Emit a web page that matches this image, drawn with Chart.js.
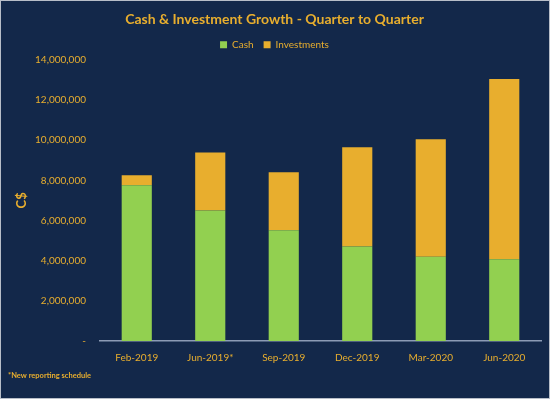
<!DOCTYPE html>
<html>
<head>
<meta charset="utf-8">
<script src="https://cdn.jsdelivr.net/npm/chart.js@4/dist/chart.umd.min.js"></script>
<style>
html,body{margin:0;padding:0;background:#13284a;}
#wrap{position:absolute;left:0;top:0;width:548px;height:397px;border:1px solid #b8bec8;background:#13284a;}
canvas{display:block;}
</style>
</head>
<body>
<div id="wrap"><canvas id="c" width="548" height="397"></canvas></div>
<script>
const categories = ["Feb-2019","Jun-2019*","Sep-2019","Dec-2019","Mar-2020","Jun-2020"];
const cashValues = [7750000,6500000,5520000,4700000,4200000,4070000];
const investmentValues = [500000,2880000,2880000,4950000,5840000,8980000];
const yTicks = [0,2000000,4000000,6000000,8000000,10000000,12000000,14000000];

const GOLD = "#E8AE2E";
const GREEN = "#92D050";
const FONT = "Lato, 'Open Sans', sans-serif";

new Chart(document.getElementById("c"), {
  type: "bar",
  data: {
    labels: categories,
    datasets: [
      {label: "Cash", data: cashValues, backgroundColor: GREEN, borderWidth: 0, barPercentage: 0.41, categoryPercentage: 1},
      {label: "Investments", data: investmentValues, backgroundColor: GOLD, borderWidth: 0, barPercentage: 0.41, categoryPercentage: 1}
    ]
  },
  options: {
    responsive: false,
    animation: false,
    layout: {padding: {left: 7, right: 8, top: 0, bottom: 10}},
    plugins: {
      title: {display: true, text: "Cash & Investment Growth - Quarter to Quarter", color: GOLD,
        font: {family: FONT, size: 14, weight: "bold"}, padding: {top: 10, bottom: 2}},
      legend: {display: true, position: "top",
        labels: {color: GOLD, boxWidth: 7, boxHeight: 7, padding: 10, font: {family: FONT, size: 10}}},
      subtitle: {display: true, text: "*New reporting schedule", position: "bottom", align: "start",
        color: GOLD, font: {family: FONT, size: 7.5, weight: "bold"}, padding: {top: 4, bottom: 8}},
      tooltip: {enabled: false}
    },
    scales: {
      x: {
        stacked: true,
        grid: {display: false},
        border: {display: true, color: "#8c9bb5", width: 1.5},
        ticks: {color: GOLD, font: {family: FONT, size: 10}, padding: 3, maxRotation: 0}
      },
      y: {
        stacked: true,
        min: 0, max: 14000000,
        afterBuildTicks: (s) => { s.ticks = yTicks.map(v => ({value: v})); },
        afterFit: (s) => { s.width = 92; },
        grid: {display: false},
        border: {display: false},
        title: {display: true, text: "C$", color: GOLD, font: {family: FONT, size: 13, weight: "bold"}, padding: {top: 6, bottom: 0}},
        ticks: {color: GOLD, font: {family: FONT, size: 10}, padding: 6,
          callback: (v) => v === 0 ? "-" : v.toLocaleString("en-US")}
      }
    }
  }
});
</script>
</body>
</html>
